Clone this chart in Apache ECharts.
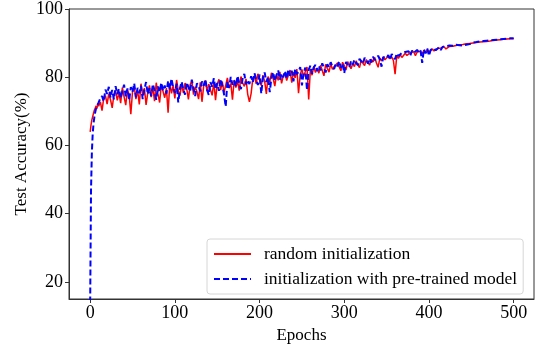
<!DOCTYPE html>
<html>
<head>
<meta charset="utf-8">
<script src="https://cdn.jsdelivr.net/npm/echarts@6/dist/echarts.min.js"></script>
<style>
html, body { margin: 0; padding: 0; background: #fff; }
#chart { width: 540px; height: 349px; }
</style>
</head>
<body>
<div id="chart"></div>
<script>
// first epochs, one point per epoch
const warmEpochs = [0, 1, 2, 3, 4, 5, 6, 7, 8, 9];
const redWarm = [64, 66, 67.5, 68.5, 69.5, 70.4, 71.0, 71.6, 70.8, 72.2];
const blueWarm = [14, 47, 58, 63.5, 66.5, 68.4, 69.8, 70.9, 71.6, 72.0];

// from epoch 10 to 500, every 2 epochs
const startEpoch = 10;
const epochStep = 2;
const redAcc = [
  71.5, 72.8, 70.2, 73.9, 74.6, 72.1, 75.2, 73.4, 71.0, 74.8,
  76.1, 73.2, 75.5, 72.4, 77.0, 74.3, 71.8, 76.4, 74.9, 69.2,
  75.8, 77.3, 73.6, 76.2, 72.0, 78.1, 74.7, 76.8, 71.9, 75.4,
  77.6, 74.2, 76.9, 73.0, 78.4, 75.1, 72.6, 77.8, 75.9, 74.0,
  76.8, 69.6, 78.2, 75.3, 77.5, 73.8, 79.2, 76.1, 74.6, 77.9,
  75.4, 78.3, 76.6, 73.5, 77.8, 79.0, 74.9, 77.2, 75.8, 73.6,
  78.5, 72.8, 77.4, 79.1, 75.9, 78.0, 76.3, 74.7, 78.6, 73.3,
  77.9, 79.4, 76.2, 78.7, 75.5, 77.6, 79.8, 76.8, 78.2, 73.4,
  79.2, 77.0, 78.9, 76.1, 80.2, 78.4, 77.3, 79.5, 75.0, 72.8,
  75.2, 79.6, 80.4, 78.1, 81.0, 79.3, 77.6, 80.6, 78.8, 75.1,
  80.2, 78.6, 81.3, 79.7, 77.4, 80.8, 79.1, 81.6, 78.2, 80.5,
  81.2, 79.0, 80.6, 82.1, 78.4, 81.5, 79.8, 82.4, 75.3, 80.9,
  82.3, 80.1, 81.7, 83.0, 73.5, 82.4, 80.6, 83.2, 81.4, 82.7,
  81.2, 83.5, 82.0, 80.4, 83.8, 82.6, 81.5, 84.0, 82.3, 83.1,
  82.6, 84.2, 83.0, 81.9, 84.4, 83.4, 82.1, 84.6, 83.3, 82.5,
  84.0, 83.1, 84.8, 83.6, 82.8, 85.0, 84.1, 83.4, 85.2, 84.3,
  83.6, 85.3, 84.5, 85.8, 84.2, 82.9, 85.6, 84.8, 86.0, 85.1,
  84.7, 86.2, 85.4, 86.0, 84.9, 80.9, 86.3, 85.5, 86.6, 85.8,
  86.1, 87.0, 86.4, 85.9, 87.2, 86.7, 87.5, 86.3, 87.4, 86.9,
  87.6, 86.8, 87.9, 87.2, 88.1, 87.4, 86.9, 88.3, 87.7, 88.0,
  88.4, 87.9, 88.6, 88.1, 88.9, 88.3, 88.7, 89.0, 88.5, 89.1,
  88.8, 89.3, 88.9, 89.5, 89.1, 89.6, 89.2, 89.8, 89.4, 89.9,
  89.6, 90.0, 89.7, 90.2, 89.9, 90.3, 90.0, 90.4, 90.2, 90.5,
  90.3, 90.6, 90.4, 90.8, 90.6, 90.9, 90.7, 91.0, 90.8, 91.1,
  90.9, 91.2, 91.0, 91.3, 91.2, 91.3
];
const blueAcc = [
  72.6, 73.8, 74.5, 72.9, 76.4, 75.1, 77.2, 74.0, 76.3, 73.5,
  77.4, 75.0, 76.6, 73.8, 75.9, 77.8, 74.4, 76.7, 73.2, 77.1,
  75.6, 78.2, 74.1, 76.9, 75.3, 77.5, 73.6, 76.4, 78.6, 75.0,
  76.8, 74.5, 78.0, 76.2, 73.4, 77.3, 75.7, 78.4, 76.0, 77.6,
  75.2, 78.9, 76.5, 79.6, 77.0, 75.4, 78.1, 72.6, 76.8, 78.7,
  76.4, 74.9, 78.5, 77.1, 75.8, 79.3, 76.6, 74.5, 78.2, 77.4,
  75.9, 78.8, 77.5, 79.4, 76.3, 74.8, 78.6, 77.2, 79.7, 76.5,
  78.3, 76.0, 79.5, 77.6, 75.1, 71.4, 78.7, 76.9, 80.1, 77.8,
  79.0, 77.3, 80.4, 78.2, 76.5, 79.6, 81.0, 77.9, 79.2, 78.0,
  80.3, 78.5, 81.2, 79.4, 77.7, 80.8, 75.2, 79.9, 81.4, 78.6,
  80.1, 75.6, 79.8, 81.5, 78.9, 80.6, 82.0, 79.3, 81.1, 80.0,
  81.8, 79.6, 82.3, 80.4, 81.9, 78.8, 82.5, 80.9, 81.6, 83.0,
  77.6, 81.3, 82.8, 76.2, 82.2, 83.4, 81.0, 82.9, 83.6, 81.8,
  83.3, 82.0, 84.1, 82.7, 81.4, 83.8, 82.9, 84.4, 83.1, 82.4,
  84.0, 83.2, 84.7, 82.8, 83.9, 81.2, 84.5, 83.6, 82.9, 84.8,
  83.7, 85.1, 84.2, 83.5, 85.4, 84.6, 83.9, 85.7, 84.9, 84.0,
  85.5, 84.3, 86.0, 85.0, 84.6, 86.3, 85.2, 83.1, 85.9, 86.4,
  85.6, 86.5, 85.1, 86.8, 86.0, 85.3, 87.0, 86.2, 85.7, 87.1,
  86.6, 87.4, 86.9, 87.6, 86.4, 87.8, 87.1, 86.7, 88.0, 87.3,
  87.9, 84.2, 88.2, 87.0, 88.4, 86.3, 88.0, 87.6, 88.5, 87.9,
  88.3, 88.8, 88.0, 88.9, 88.4, 89.1, 88.6, 89.3, 88.8, 89.2,
  89.0, 89.5, 89.1, 89.4, 89.7, 89.3, 89.8, 89.5, 90.0, 89.7,
  89.9, 90.2, 89.8, 90.3, 90.1, 90.5, 90.2, 90.6, 90.4, 90.7,
  90.5, 90.8, 90.6, 90.9, 90.7, 91.0, 90.8, 91.1, 90.9, 91.2,
  91.0, 91.3, 91.1, 91.4, 91.3, 91.4
];

const xTicks = [0, 100, 200, 300, 400, 500];
const yTicks = [20, 40, 60, 80, 100];

function toPoints(warm, acc) {
  const pts = warmEpochs.map((e, i) => [e, warm[i]]);
  acc.forEach((v, i) => pts.push([startEpoch + i * epochStep, v]));
  return pts;
}

const font = "Liberation Serif";
const axisColor = "#333";

const chart = echarts.init(document.getElementById("chart"));
chart.setOption({
  animation: false,
  grid: {
    left: 69, right: 6, top: 6, bottom: 45,
    show: true, borderColor: axisColor, borderWidth: 1
  },
  legend: {
    orient: "vertical",
    left: 207, top: 239,
    padding: [6, 6, 6, 6],
    itemWidth: 37, itemHeight: 12, itemGap: 7,
    itemStyle: { opacity: 0 },
    backgroundColor: "#fff",
    borderColor: "#d6d6d6", borderWidth: 1, borderRadius: 3,
    textStyle: { fontFamily: font, fontSize: 17.5, color: "#000", padding: [0, 0, 0, 8] },
    data: ["random initialization", "initialization with pre-trained model"]
  },
  xAxis: {
    type: "value",
    min: -25, max: 524,
    name: "Epochs",
    nameLocation: "middle",
    nameGap: 28,
    nameTextStyle: { fontFamily: font, fontSize: 17, color: "#000" },
    splitLine: { show: false },
    axisLine: { show: true, onZero: false, lineStyle: { color: axisColor } },
    axisTick: { show: true, length: 4, customValues: xTicks, lineStyle: { color: axisColor } },
    axisLabel: { customValues: xTicks, margin: 5, fontFamily: font, fontSize: 18, color: "#000" }
  },
  yAxis: {
    type: "value",
    min: 15, max: 100,
    name: "Test Accuracy(%)",
    nameLocation: "middle",
    nameGap: 39,
    nameMoveOverlap: false,
    nameTextStyle: { fontFamily: font, fontSize: 17, color: "#000" },
    splitLine: { show: false },
    axisLine: { show: true, onZero: false, lineStyle: { color: axisColor } },
    axisTick: { show: true, length: 4, customValues: yTicks, lineStyle: { color: axisColor } },
    axisLabel: { customValues: yTicks, margin: 6, fontFamily: font, fontSize: 18, color: "#000" }
  },
  series: [
    {
      name: "random initialization",
      type: "line",
      data: toPoints(redWarm, redAcc),
      symbol: "none",
      clip: true,
      color: "#ff0000",
      lineStyle: { color: "#ff0000", width: 1.5 }
    },
    {
      name: "initialization with pre-trained model",
      type: "line",
      data: toPoints(blueWarm, blueAcc),
      symbol: "none",
      clip: true,
      color: "#0000ff",
      lineStyle: { color: "#0000ff", width: 2, type: [6, 3] }
    }
  ]
});
</script>
</body>
</html>
